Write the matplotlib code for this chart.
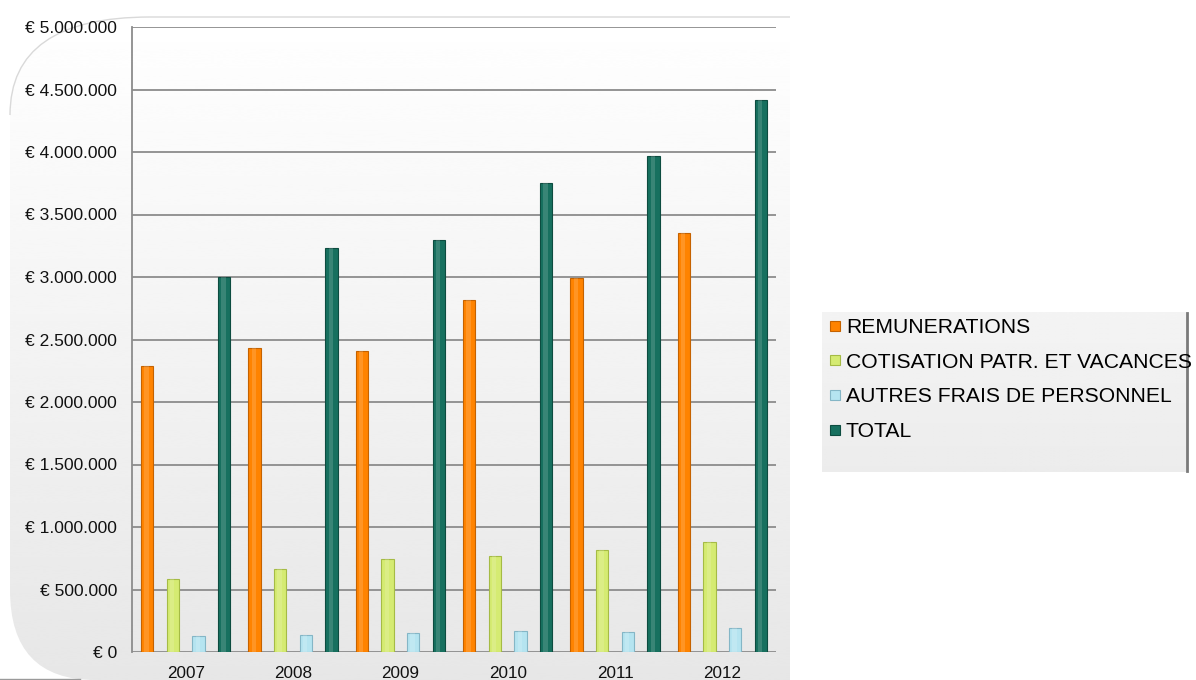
import numpy as np
import matplotlib
matplotlib.use('Agg')
import matplotlib.pyplot as plt
from matplotlib.path import Path
from matplotlib.patches import PathPatch, Rectangle
from matplotlib.lines import Line2D
from matplotlib.ticker import FuncFormatter

plt.rcParams['font.family'] = ['Liberation Sans', 'DejaVu Sans']

# frais de personnel par annee (en euros)
annees = ['2007', '2008', '2009', '2010', '2011', '2012']
remunerations = [2290000, 2430000, 2410000, 2820000, 2990000, 3350000]
cotisations = [584000, 664000, 744000, 770000, 820000, 880000]
autres_frais = [130000, 136000, 150000, 168000, 160000, 190000]
total = [3000000, 3230000, 3300000, 3750000, 3970000, 4420000]

series = [
    ('REMUNERATIONS', remunerations, '#ff8300', '#c56200'),
    ('COTISATION PATR. ET VACANCES', cotisations, '#d5eb72', '#a5bb45'),
    ('AUTRES FRAIS DE PERSONNEL', autres_frais, '#b5e4f0', '#84b6c6'),
    ('TOTAL', total, '#17705f', '#0d4c40'),
]

W, H = 1196, 680
fig = plt.figure(figsize=(W / 100, H / 100), dpi=100)

# fond: panneau degrade avec coins arrondis a gauche
bg = fig.add_axes([0, 0, 1, 1], zorder=-1)
bg.axis('off')

verts = [(790, 17), (150, 17), (10, 17), (10, 115), (10, 590), (10, 680),
         (95, 680), (790, 680), (790, 17)]
codes = [Path.MOVETO, Path.LINETO, Path.CURVE3, Path.CURVE3, Path.LINETO,
         Path.CURVE3, Path.CURVE3, Path.LINETO, Path.CLOSEPOLY]
panneau = PathPatch(Path(verts, codes), facecolor='none', edgecolor='none')
bg.add_patch(panneau)
grad = np.linspace(1.0, 0.905, 256).reshape(-1, 1)
img = bg.imshow(grad, cmap='gray', vmin=0, vmax=1, aspect='auto',
                extent=(10, 790, 680, 17), interpolation='bicubic')
img.set_clip_path(panneau)
# contour clair en haut et sur l'arrondi
contour = Path(verts[:4], codes[:4])
bg.add_patch(PathPatch(contour, facecolor='none', edgecolor='#d9d9d9', lw=1))
bg.plot([0, 80], [679, 679], color='#9a9a9a', lw=1)

# boite de legende
leg_grad = np.linspace(0.955, 0.925, 64).reshape(-1, 1)
boite = Rectangle((822, 312), 366, 160, facecolor='none', edgecolor='none')
bg.add_patch(boite)
limg = bg.imshow(leg_grad, cmap='gray', vmin=0, vmax=1, aspect='auto',
                 extent=(822, 1188, 472, 312))
limg.set_clip_path(boite)
bg.plot([1187, 1187], [313, 471], color='#7a7a7a', lw=2)
bg.set_xlim(0, W)
bg.set_ylim(H, 0)

# graphique principal
ax = fig.add_axes([132 / W, 28 / H, 644 / W, 625 / H])
ax.set_facecolor('none')

x = np.arange(len(annees))
ecart = 0.2386
larg = 0.115
for k, (nom, vals, coul, bord) in enumerate(series):
    pos = x + (k - 1.5) * ecart
    ax.bar(pos, vals, width=larg, color=coul, edgecolor=bord, lw=0.8, zorder=3)
    # reflet au centre de la barre
    ax.bar(pos - larg * 0.05, vals, width=larg * 0.35, color='white',
           alpha=0.15, lw=0, zorder=4)

ax.set_xlim(-0.5, len(annees) - 0.5)
ax.set_ylim(0, 5000000)
ax.set_yticks(np.arange(0, 5000001, 500000))
ax.yaxis.set_major_formatter(FuncFormatter(lambda v, p: '€ ' + f'{int(v):,}'.replace(',', '.')))
ax.set_xticks(x)
ax.set_xticklabels(annees)
ax.tick_params(axis='y', length=0, pad=10.8, labelsize=12.5, labelcolor='#111111')
ax.tick_params(axis='x', length=0, pad=9.8, labelsize=12.3, labelcolor='#111111')
ax.grid(axis='y', color='#8c8c8c', lw=1.3, zorder=1)
for s in ['top', 'right', 'bottom']:
    ax.spines[s].set_visible(False)
ax.spines['left'].set_color('#8c8c8c')
ax.spines['left'].set_linewidth(1.3)

handles = [Line2D([], [], marker='s', ls='none', markersize=6.5,
                  markerfacecolor=c, markeredgecolor=b, markeredgewidth=0.8)
           for _, _, c, b in series]
fig.legend(handles, [s[0] for s in series], loc='upper left',
           bbox_to_anchor=(829 / W, 1 - 318 / H), frameon=False,
           fontsize=15.2, handlelength=0.6, handletextpad=0.2,
           labelspacing=0.745, borderpad=0, borderaxespad=0)

fig.savefig('out.png', dpi=100)
